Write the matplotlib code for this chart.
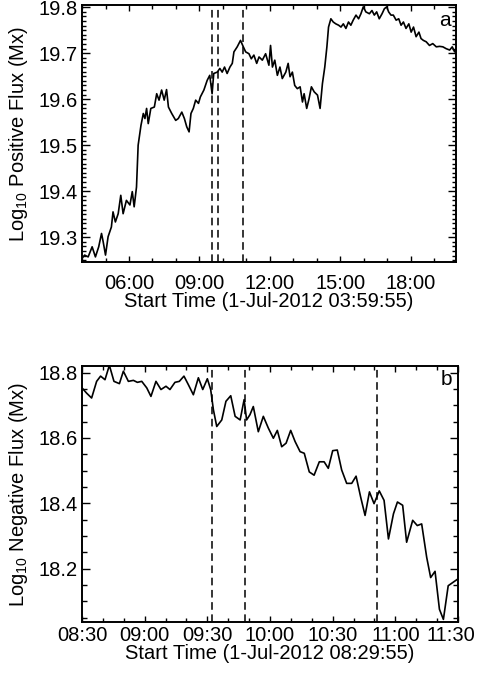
import matplotlib
matplotlib.use('Agg')
import matplotlib.pyplot as plt
from matplotlib.ticker import MultipleLocator, FuncFormatter
from matplotlib.transforms import ScaledTranslation

plt.rcParams['font.family'] = 'Liberation Sans'
plt.rcParams['mathtext.fontset'] = 'custom'
plt.rcParams['mathtext.rm'] = 'Liberation Sans'
plt.rcParams['mathtext.it'] = 'Liberation Sans:italic'

# panel a: hours of 1-Jul-2012, log10 positive flux
pos_hours = [4.00, 4.11, 4.26, 4.43, 4.57, 4.71, 4.83, 4.90, 5.00, 5.11, 5.25, 5.32, 5.42, 5.54,
             5.65, 5.75, 5.89, 6.04, 6.14, 6.22, 6.32, 6.39, 6.51, 6.61, 6.68, 6.75, 6.82, 6.93,
             7.08, 7.18, 7.28, 7.39, 7.50, 7.60, 7.68, 7.82, 7.99, 8.10, 8.25, 8.36, 8.46, 8.56,
             8.64, 8.74, 8.84, 8.96, 9.04, 9.19, 9.33, 9.44, 9.54, 9.61, 9.76, 9.87, 9.97, 10.07,
             10.18, 10.30, 10.40, 10.47, 10.61, 10.75, 10.87, 10.97, 11.11, 11.21, 11.32, 11.44,
             11.54, 11.68, 11.82, 11.96, 12.03, 12.11, 12.21, 12.32, 12.43, 12.53, 12.68, 12.78,
             12.86, 12.96, 13.06, 13.17, 13.29, 13.39, 13.46, 13.57, 13.67, 13.77, 13.89, 14.03,
             14.14, 14.24, 14.34, 14.43, 14.50, 14.60, 14.70, 14.81, 14.93, 15.03, 15.13, 15.24,
             15.35, 15.45, 15.55, 15.67, 15.78, 15.88, 15.98, 16.09, 16.24, 16.35, 16.45, 16.55,
             16.66, 16.78, 16.88, 16.98, 17.06, 17.16, 17.26, 17.38, 17.49, 17.59, 17.69, 17.80,
             17.92, 18.02, 18.12, 18.23, 18.35, 18.44, 18.54, 18.66, 18.80, 18.94, 19.09, 19.23,
             19.37, 19.51, 19.66, 19.77, 19.87, 19.93]
pos_flux = [19.254, 19.261, 19.257, 19.279, 19.257, 19.279, 19.308, 19.290, 19.261, 19.301, 19.322,
            19.355, 19.333, 19.351, 19.391, 19.351, 19.380, 19.370, 19.399, 19.366, 19.409, 19.500,
            19.543, 19.569, 19.558, 19.580, 19.547, 19.580, 19.583, 19.612, 19.598, 19.620, 19.598,
            19.621, 19.583, 19.569, 19.554, 19.558, 19.572, 19.558, 19.540, 19.529, 19.569, 19.580,
            19.598, 19.591, 19.605, 19.620, 19.641, 19.652, 19.612, 19.656, 19.659, 19.667, 19.659,
            19.670, 19.656, 19.670, 19.678, 19.703, 19.714, 19.728, 19.714, 19.703, 19.699, 19.688,
            19.696, 19.678, 19.692, 19.685, 19.699, 19.674, 19.717, 19.670, 19.685, 19.652, 19.670,
            19.645, 19.659, 19.678, 19.649, 19.659, 19.630, 19.623, 19.627, 19.594, 19.612, 19.580,
            19.601, 19.627, 19.616, 19.609, 19.580, 19.634, 19.670, 19.714, 19.757, 19.775, 19.768,
            19.764, 19.761, 19.757, 19.764, 19.754, 19.768, 19.761, 19.772, 19.783, 19.775, 19.786,
            19.801, 19.790, 19.786, 19.793, 19.783, 19.790, 19.775, 19.786, 19.797, 19.801, 19.790,
            19.783, 19.783, 19.772, 19.775, 19.761, 19.768, 19.754, 19.764, 19.746, 19.757, 19.736,
            19.746, 19.732, 19.728, 19.725, 19.717, 19.721, 19.714, 19.715, 19.714, 19.710, 19.707,
            19.714, 19.703, 19.710]

# panel b: minutes after 08:30, log10 negative flux
neg_minutes = [0.0, 2.2, 4.6, 7.0, 8.9, 11.0, 13.1, 15.3, 17.9, 19.8, 22.2, 24.6, 26.5, 28.6, 31.0,
               33.0, 35.4, 37.8, 40.2, 42.1, 44.5, 46.6, 48.8, 50.9, 53.3, 55.7, 57.8, 60.0, 61.6,
               62.9, 64.5, 66.9, 68.9, 71.2, 73.3, 75.7, 77.6, 78.8, 80.4, 82.0, 84.4, 86.8, 89.2,
               91.6, 93.5, 95.6, 97.7, 99.9, 102.0, 104.4, 106.4, 108.8, 111.1, 113.6, 115.9, 117.9,
               120.0, 122.2, 124.3, 126.7, 129.1, 131.2, 133.4, 135.5, 137.6, 139.8, 142.3, 144.6,
               146.7, 149.1, 151.0, 153.5, 155.4, 158.3, 160.5, 162.6, 165.0, 166.9, 169.0, 171.1,
               173.0, 175.3, 180.0]
neg_flux = [18.753, 18.737, 18.722, 18.773, 18.789, 18.778, 18.822, 18.773, 18.766, 18.804, 18.773,
            18.776, 18.770, 18.773, 18.753, 18.727, 18.773, 18.748, 18.758, 18.748, 18.770, 18.773,
            18.789, 18.763, 18.732, 18.784, 18.748, 18.781, 18.748, 18.686, 18.635, 18.655, 18.712,
            18.729, 18.666, 18.655, 18.717, 18.655, 18.671, 18.696, 18.619, 18.666, 18.630, 18.599,
            18.623, 18.573, 18.584, 18.623, 18.589, 18.558, 18.553, 18.496, 18.486, 18.527, 18.527,
            18.507, 18.561, 18.563, 18.502, 18.461, 18.461, 18.483, 18.419, 18.363, 18.435, 18.399,
            18.438, 18.409, 18.291, 18.368, 18.404, 18.394, 18.281, 18.348, 18.332, 18.337, 18.235,
            18.173, 18.192, 18.076, 18.045, 18.148, 18.169]

event_times = ['09:32', '09:48', '10:51']

start_a = 3 + 59 / 60 + 55 / 3600
start_b = 8.5
event_hours = [int(s[:2]) + int(s[3:]) / 60 for s in event_times]


def hhmm(h, pos=None):
    m = int(round(h * 60))
    return '%02d:%02d' % (m // 60, m % 60)


def style_axes(ax):
    for sp in ax.spines.values():
        sp.set_linewidth(1.4)
    ax.tick_params(axis='both', which='both', direction='in', top=True, right=True,
                   width=1.0, labelsize=14.5)
    ax.tick_params(axis='y', which='major', length=5.5, pad=3)
    ax.tick_params(axis='y', which='minor', length=2.7)
    ax.tick_params(axis='x', which='major', length=4.0)
    ax.tick_params(axis='x', which='minor', length=3.0)
    ax.xaxis.set_major_formatter(FuncFormatter(hhmm))


fig = plt.figure(figsize=(4.79, 6.75), dpi=100)

ax1 = fig.add_axes([0.1712, 0.6119, 0.7808, 0.3807])
ax1.plot(pos_hours, pos_flux, color='black', lw=1.2)
for t in event_hours:
    ax1.axvline(t, color='black', lw=1.1, ls=(0, (5, 3)))
ax1.set_xlim(start_a, 19.93)
ax1.set_ylim(19.246, 19.805)
ax1.xaxis.set_major_locator(MultipleLocator(3))
ax1.xaxis.set_minor_locator(MultipleLocator(1))
ax1.yaxis.set_major_locator(MultipleLocator(0.1))
ax1.yaxis.set_minor_locator(MultipleLocator(0.01))
style_axes(ax1)
ax1.tick_params(axis='x', which='major', pad=9)
ax1.set_xlabel('Start Time (1-Jul-2012 03:59:55)', fontsize=14.5, labelpad=-1)
ax1.set_ylabel('Log$_{10}$ Positive Flux (Mx)', fontsize=14.5, labelpad=6)
ax1.text(0.985, 0.975, 'a', transform=ax1.transAxes, ha='right', va='top', fontsize=15)

ax2 = fig.add_axes([0.1712, 0.0785, 0.785, 0.3793])
ax2.plot([start_b + m / 60 for m in neg_minutes], neg_flux, color='black', lw=1.2)
for t in event_hours:
    ax2.axvline(t, color='black', lw=1.1, ls=(0, (5, 3)))
ax2.set_xlim(8.5, 11.5)
ax2.set_ylim(18.037, 18.82)
ax2.set_xticks([8.5, 9.0, 9.5, 10.0, 10.5, 11.0, 11.5])
ax2.xaxis.set_minor_locator(MultipleLocator(1 / 6))
ax2.yaxis.set_major_locator(MultipleLocator(0.2))
ax2.yaxis.set_minor_locator(MultipleLocator(0.05))
style_axes(ax2)
ax2.tick_params(axis='y', which='minor', length=3.5)
ax2.tick_params(axis='x', which='major', pad=3)
ax2.set_xlabel('Start Time (1-Jul-2012 08:29:55)', fontsize=14.5, labelpad=-1)
ax2.set_ylabel('Log$_{10}$ Negative Flux (Mx)', fontsize=14.5, labelpad=6)
ax2.text(0.985, 0.985, 'b', transform=ax2.transAxes, ha='right', va='top', fontsize=15)

# keep the last time label inside the figure, as in the original
last = ax2.xaxis.get_major_ticks()[-1].label1
last.set_transform(last.get_transform() + ScaledTranslation(-5 / 72, 0, fig.dpi_scale_trans))

fig.savefig('out.png', dpi=100)
